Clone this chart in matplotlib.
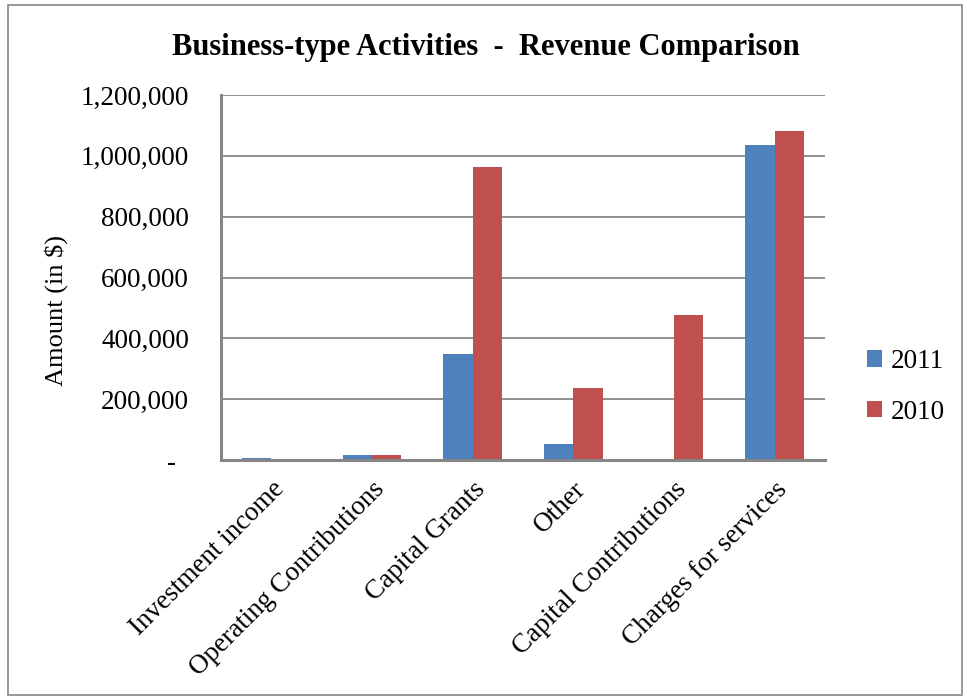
import matplotlib
import matplotlib.pyplot as plt
import numpy as np
from matplotlib.patches import Rectangle

matplotlib.use("Agg")

plt.rcParams["font.family"] = ["Liberation Serif", "DejaVu Serif"]

CATEGORIES = [
    "Investment income",
    "Operating Contributions",
    "Capital Grants",
    "Other",
    "Capital Contributions",
    "Charges for services",
]
VALUES_2011 = [8000, 18000, 348000, 52000, 0, 1036000]
VALUES_2010 = [0, 18000, 964000, 237000, 477000, 1082000]
Y_TICKS = [0, 200000, 400000, 600000, 800000, 1000000, 1200000]

BLUE = "#4f81bd"
RED = "#c0504d"
GRAY = "#868686"


def fmt_tick(v):
    # accounting style: zero shown as a dash
    return "-  " if v == 0 else f"{v:,.0f}"


def main():
    fig = plt.figure(figsize=(9.67, 7.0), dpi=100)
    ax = fig.add_axes([221 / 967, 1 - 460 / 700, 604 / 967, 365 / 700])

    x = np.arange(len(CATEGORIES))
    width = 0.29
    ax.bar(x - width / 2, VALUES_2011, width, color=BLUE, label="2011")
    ax.bar(x + width / 2, VALUES_2010, width, color=RED, label="2010")

    ax.set_xlim(-0.5, len(CATEGORIES) - 0.5)
    ax.set_ylim(0, 1200000)
    ax.set_yticks(Y_TICKS)
    ax.set_yticklabels([fmt_tick(v) for v in Y_TICKS], fontsize=19.5)
    ax.yaxis.grid(True, color=GRAY, linewidth=1.3)
    ax.set_axisbelow(True)

    ax.set_xticks(x)
    ax.set_xticklabels(CATEGORIES, fontsize=19.5, rotation=45, ha="right",
                       rotation_mode="anchor")
    ax.tick_params(axis="both", length=0)
    ax.tick_params(axis="y", pad=23)
    ax.tick_params(axis="x", pad=12)

    for side in ["top", "right"]:
        ax.spines[side].set_visible(False)
    for side in ["left", "bottom"]:
        ax.spines[side].set_color(GRAY)
        ax.spines[side].set_linewidth(2.2)

    ax.set_ylabel("Amount (in $)", fontsize=19)
    ax.yaxis.set_label_coords((68 - 221) / 604, (460 - 310) / 365)

    fig.text(486 / 967, 1 - 47 / 700, "Business-type Activities  -  Revenue Comparison",
             ha="center", va="center", fontsize=22, fontweight="bold")

    ax.legend(loc="center left", bbox_to_anchor=(1.03, 0.2), frameon=False,
              fontsize=19.5, handlelength=0.55, handleheight=0.55,
              labelspacing=0.95, handletextpad=0.3)

    fig.patches.append(Rectangle((8 / 967, 5 / 700), 954 / 967, 690 / 700,
                                 transform=fig.transFigure, fill=False,
                                 edgecolor=GRAY, linewidth=1.2))

    fig.savefig("out.png", dpi=100)
    plt.close(fig)


if __name__ == "__main__":
    main()
